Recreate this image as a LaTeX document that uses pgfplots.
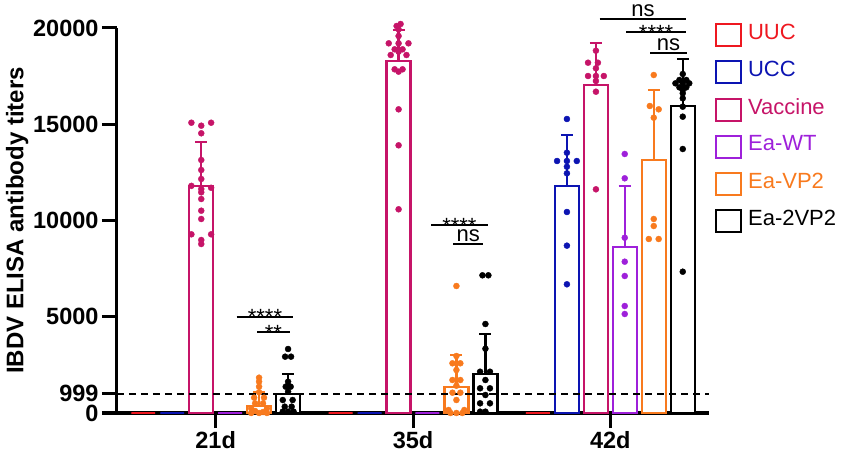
\documentclass[border=0pt]{standalone}
\usepackage{pgfplots}
\pgfplotsset{compat=1.18}
\usepackage{fontspec}
\setmainfont{Liberation Sans}
\newcommand\ff{\fontsize{22bp}{26bp}\selectfont}
\newcommand\tf{\fontsize{23.5bp}{27bp}\selectfont}
\definecolor{cUUC}{RGB}{238,24,32}
\definecolor{cUCC}{RGB}{12,20,178}
\definecolor{cVac}{RGB}{198,20,104}
\definecolor{cWT}{RGB}{158,32,218}
\definecolor{cVP2}{RGB}{248,122,30}
\definecolor{cTwo}{RGB}{0,0,0}
\pgfplotsset{
  boxleg/.style={legend image code/.code={\draw[#1, line width=1.8bp, fill=white] (0bp,-13.5bp) rectangle (25bp,8.5bp);
     \path[draw=none, fill=none] (0bp,0bp) -- (30bp,0bp);}},
  mybar/.style={ybar, bar width=0.1215, bar shift=0pt, draw=#1, fill=white, line width=2.3bp,
    error bars/.cd, y dir=plus, y explicit,
    error bar style={#1, line width=2.3bp},
    error mark options={#1, rotate=90, mark size=6bp, line width=2.3bp},
    /pgfplots/.cd, boxleg=#1},
  mydots/.style={only marks, mark=*, mark size=3bp, color=#1, forget plot},
}
\begin{document}
\begin{tikzpicture}
\useasboundingbox (-117bp,-43bp) rectangle (734bp,385bp+28bp);
\begin{axis}[
  scale only axis, width=592bp, height=385bp,
  xmin=-0.5, xmax=2.5, ymin=0, ymax=20000,
  axis x line=bottom, axis y line=left,
  axis line style={-, line width=3bp},
  clip=false,
  xtick={0,1,2}, xticklabels={21d,35d,42d},
  ytick={0,999,5000,10000,15000,20000},
  scaled y ticks=false,
  yticklabels={0,999,5000,10000,15000,20000},
  yticklabel style={font=\tf\bfseries},
  xticklabel style={font=\tf\bfseries},
  tick style={line width=3bp, black},
  tick align=outside, major tick length=15bp,
  ylabel={\bfseries IBDV ELISA antibody titers},
  ylabel style={font=\fontsize{24bp}{28bp}\selectfont, yshift=-2bp},
  legend style={at={(axis description cs:1,1)}, anchor=north west, xshift=6bp, yshift=6bp,
    draw=none, fill=none, font=\ff, row sep=12.3bp, inner sep=0pt},
  legend cell align=left,
]
% bars
\addplot[mybar=cUUC] coordinates {(-0.367,0) +- (0,0) (0.633,0) +- (0,0) (1.633,0) +- (0,0)};
\addlegendentry{\textcolor{cUUC}{UUC}}
\addplot[mybar=cUCC] coordinates {(-0.220,0) +- (0,0) (0.780,0) +- (0,0) (1.780,11792) +- (0,2650)};
\addlegendentry{\textcolor{cUCC}{UCC}}
\addplot[mybar=cVac] coordinates {(-0.073,11800) +- (0,2290) (0.927,18300) +- (0,1596) (1.927,17023) +- (0,2181)};
\addlegendentry{\textcolor{cVac}{Vaccine}}
\addplot[mybar=cWT] coordinates {(0.073,0) +- (0,0) (1.073,0) +- (0,0) (2.073,8607) +- (0,3185)};
\addlegendentry{\textcolor{cWT}{Ea-WT}}
\addplot[mybar=cVP2] coordinates {(0.220,364) +- (0,711) (1.220,1368) +- (0,1645) (2.220,13143) +- (0,3636)};
\addlegendentry{\textcolor{cVP2}{Ea-VP2}}
\addplot[mybar=cTwo] coordinates {(0.367,970) +- (0,1056) (1.367,2026) +- (0,2062) (2.367,15964) +- (0,2441)};
\addlegendentry{\textcolor{cTwo}{Ea-2VP2}}
% threshold
\addplot[black, line width=2bp, dash pattern=on 7bp off 5bp, forget plot] coordinates {(-0.5,999) (2.5,999)};
% dots
\addplot[mydots=cVac] coordinates {
(-0.123,15080) (-0.023,15080) (-0.073,14925) (-0.073,14530) (-0.073,13143) (-0.073,12623)
(-0.073,12156) (-0.123,11800) (-0.023,11700) (-0.073,11636) (-0.073,11463) (-0.073,11117)
(-0.073,10509) (-0.073,10078) (-0.123,9282) (-0.023,9282) (-0.073,8987) (-0.073,8779)
(0.937,20208) (0.917,20104) (0.927,19930) (0.927,19584) (0.877,19204) (0.927,19204) (0.977,19204)
(0.907,18893) (0.947,18893) (0.927,18771) (0.887,18597) (0.967,18597) (0.907,17854) (0.947,17854)
(0.927,17732) (0.927,15775) (0.927,13906) (0.927,10582)
(1.927,18822) (1.887,18197) (1.937,18197) (1.927,17906) (1.887,17506) (1.927,17506) (1.967,17506)
(1.927,17247) (1.927,16691) (1.927,11620)};
\addplot[mydots=cVP2] coordinates {
(0.220,1835) (0.220,1627) (0.220,1368) (0.220,1075) (0.195,797) (0.245,797) (0.200,502) (0.240,502)
(0.180,242) (0.260,242) (0.180,0) (0.220,0) (0.260,0) (0.200,100) (0.240,50)
(1.220,6597) (1.220,2961) (1.200,2582) (1.240,2582) (1.220,2234) (1.200,1714) (1.240,1714) (1.220,1418)
(1.200,1055) (1.240,1055) (1.220,675) (1.180,156) (1.260,156) (1.190,0) (1.220,0) (1.250,0)
(2.220,17558) (2.200,15948) (2.245,15775) (2.220,15342) (2.220,10078) (2.220,9714) (2.195,9039) (2.245,9039)};
\addplot[mydots=cTwo] coordinates {
(0.367,3325) (0.352,2926) (0.382,2926) (0.367,1627) (0.355,1368) (0.380,1368) (0.367,1108) (0.340,675)
(0.390,675) (0.350,330) (0.385,330) (0.340,70) (0.367,70) (0.395,70)
(1.352,7153) (1.382,7153) (1.367,4623) (1.367,3340) (1.340,2145) (1.390,2145) (1.367,1714) (1.340,1283)
(1.390,1283) (1.367,935) (1.340,502) (1.390,502) (1.367,70) (1.340,70)
(2.367,17610) (2.350,17299) (2.385,17299) (2.330,17126) (2.367,17126) (2.400,17126) (2.350,16918)
(2.385,16918) (2.367,16779) (2.367,16606) (2.367,16346) (2.367,15913) (2.367,15394) (2.367,13714) (2.367,7340)};
\addplot[mydots=cUCC] coordinates {
(1.780,15273) (1.780,13522) (1.730,13091) (1.780,13091) (1.830,13091) (1.780,12795) (1.780,12450)
(1.780,10442) (1.780,8693) (1.780,6686)};
\addplot[mydots=cWT] coordinates {
(2.073,13455) (2.073,12192) (2.073,9106) (2.073,7860) (2.073,7117) (2.073,5558) (2.073,5143)};
% significance
\draw[line width=2bp] (0.106,5003) -- (0.393,5003);
\node[font=\ff, anchor=base, yshift=-8bp, inner sep=0pt] at (0.25,5003) {****};
\draw[line width=2bp] (0.211,4192) -- (0.375,4192);
\node[font=\ff, anchor=base, yshift=-8bp, inner sep=0pt] at (0.293,4192) {**};
\draw[line width=2bp] (1.092,9766) -- (1.379,9766);
\node[font=\ff, anchor=base, yshift=-8bp, inner sep=0pt] at (1.235,9766) {****};
\draw[line width=2bp] (1.204,8764) -- (1.356,8764);
\node[font=\ff, anchor=base, yshift=2.5bp, inner sep=0pt] at (1.28,8764) {ns};
\draw[line width=2bp] (1.946,20468) -- (2.383,20468);
\node[font=\ff, anchor=base, yshift=2.5bp, inner sep=0pt] at (2.165,20468) {ns};
\draw[line width=2bp] (2.081,19777) -- (2.383,19777);
\node[font=\ff, anchor=base, yshift=-8bp, inner sep=0pt] at (2.232,19777) {****};
\draw[line width=2bp] (2.203,18686) -- (2.388,18686);
\node[font=\ff, anchor=base, yshift=2.5bp, inner sep=0pt] at (2.295,18686) {ns};
\end{axis}
\end{tikzpicture}
\end{document}
